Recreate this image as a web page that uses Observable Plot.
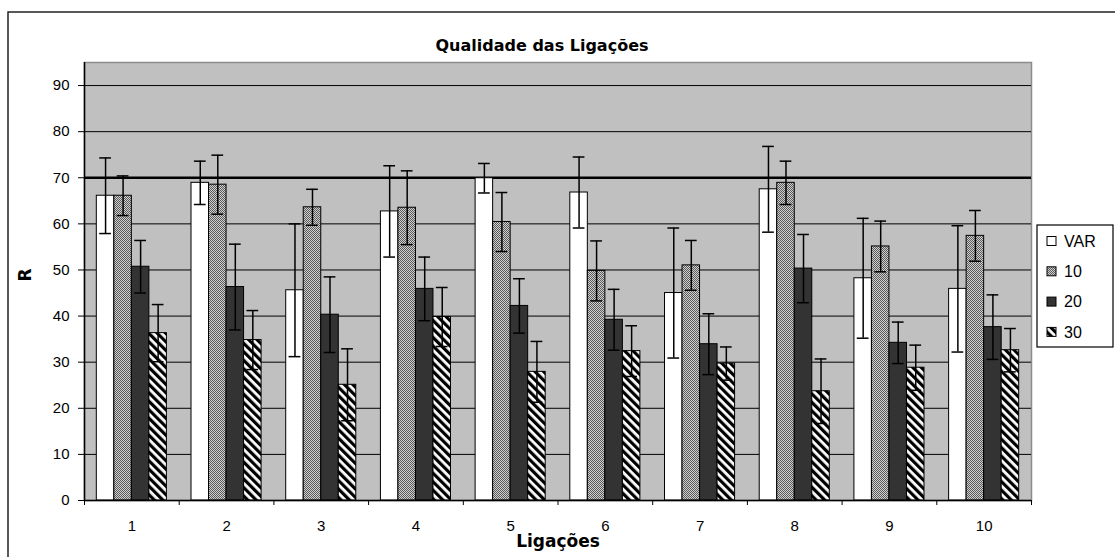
<!DOCTYPE html>
<html><head><meta charset="utf-8">
<script src="https://cdn.jsdelivr.net/npm/d3@7"></script>
<script src="https://cdn.jsdelivr.net/npm/@observablehq/plot@0.6"></script>
<style>body{margin:0;background:#fff;} svg{display:block}</style>
</head><body><div id="chart"></div>
<script>
const groups = [1,2,3,4,5,6,7,8,9,10];
const seriesNames = ["VAR","10","20","30"];
const valVAR = [66.1,68.9,45.6,62.7,69.9,66.8,45.0,67.5,48.2,45.9];
const errVAR = [8.2,4.7,14.4,9.9,3.2,7.7,14.1,9.3,13.0,13.7];
const val10  = [66.1,68.5,63.6,63.5,60.4,49.8,51.0,68.9,55.1,57.4];
const err10  = [4.3,6.4,3.9,8.0,6.4,6.5,5.4,4.7,5.5,5.5];
const val20  = [50.7,46.3,40.3,45.9,42.2,39.2,33.9,50.3,34.2,37.6];
const err20  = [5.7,9.3,8.2,6.9,5.9,6.6,6.6,7.4,4.5,7.0];
const val30  = [36.3,34.8,25.1,39.8,27.9,32.4,29.7,23.7,28.8,32.6];
const err30  = [6.2,6.4,7.8,6.4,6.6,5.5,3.6,7.0,4.9,4.7];
const yTicks = [0,10,20,30,40,50,60,70,80,90];
const refLine = 70;
const titleText = "Qualidade das Ligações";
const xLabel = "Ligações";
const yLabel = "R";

const vals = [valVAR, val10, val20, val30];
const errs = [errVAR, err10, err20, err30];
const fills = {"VAR":"white","10":"url(#pat10)","20":"#333333","30":"url(#pat30)"};
const barW = 0.185, half = barW*seriesNames.length/2, capHalf = 0.062;

const rows = groups.flatMap((g,i)=>seriesNames.map((s,j)=>{
  const x1 = g - half + j*barW;
  return {g, s, v: vals[j][i], e: errs[j][i], x1, x2: x1+barW, xc: x1+barW/2};
}));
const boundaries = [0.5, ...groups.map(g=>g+0.5)];

const font = "'Liberation Sans', Arial, sans-serif";
const boldFont = "'DejaVu Sans', 'Liberation Sans', Arial, sans-serif";
const plot = Plot.plot({
  width:1115, height:557,
  marginLeft:84, marginRight:84, marginTop:62, marginBottom:57,
  x:{domain:[0.5,10.5], label:null}, y:{domain:[0,95], label:null},
  style:{fontFamily:font, fontSize:"15px", color:"#000", background:"#fff"},
  marks:[
    Plot.frame({fill:"#c0c0c0", stroke:"#8c8c8c", strokeWidth:1.5}),
    Plot.ruleY(yTicks.filter(d=>d>0 && d!==refLine), {stroke:"#000", strokeWidth:1}),
    Plot.ruleY([refLine], {stroke:"#000", strokeWidth:2.6}),
    ...seriesNames.map(s=>Plot.rect(rows.filter(r=>r.s===s), {x1:"x1", x2:"x2", y1:0, y2:"v", fill:fills[s], stroke:"#000", strokeWidth:1})),
    Plot.ruleX(rows, {x:"xc", y1:d=>d.v-d.e, y2:d=>d.v+d.e, stroke:"#000", strokeWidth:1.5}),
    Plot.ruleY(rows, {x1:d=>d.xc-capHalf, x2:d=>d.xc+capHalf, y:d=>d.v+d.e, stroke:"#000", strokeWidth:1.5}),
    Plot.ruleY(rows, {x1:d=>d.xc-capHalf, x2:d=>d.xc+capHalf, y:d=>d.v-d.e, stroke:"#000", strokeWidth:1.5}),
    Plot.ruleX([0.5], {stroke:"#000", strokeWidth:1.5}),
    Plot.ruleY([0], {stroke:"#000", strokeWidth:1.5}),
    Plot.axisY({ticks:yTicks, tickSize:6, tickPadding:9, label:null, fontSize:15}),
    Plot.axisX({ticks:boundaries, tickSize:5, tickFormat:()=>"", label:null}),
    Plot.axisX({ticks:groups, tickSize:0, tickPadding:20, label:null, fontSize:15, tickFormat:d=>String(d)}),
    Plot.text([titleText], {frameAnchor:"top", dy:-23, dx:-16, fontWeight:"bold", fontSize:16, fontFamily:boldFont}),
    Plot.text([xLabel], {frameAnchor:"bottom", dy:46, fontWeight:"bold", fontSize:17, fontFamily:boldFont}),
    Plot.text([yLabel], {frameAnchor:"left", dx:-59, rotate:-90, fontWeight:"bold", fontSize:17, fontFamily:boldFont})
  ]
});
document.getElementById("chart").appendChild(plot);
const svg = d3.select(plot);

const defs = svg.insert("defs", ":first-child");
const p10 = defs.append("pattern").attr("id","pat10").attr("width",2).attr("height",2)
  .attr("patternUnits","userSpaceOnUse");
p10.append("rect").attr("width",2).attr("height",2).attr("fill","#d0d0d0");
p10.append("rect").attr("width",1).attr("height",1).attr("fill","#5a5a5a");
p10.append("rect").attr("x",1).attr("y",1).attr("width",1).attr("height",1).attr("fill","#5a5a5a");
const p30 = defs.append("pattern").attr("id","pat30").attr("width",6).attr("height",6)
  .attr("patternUnits","userSpaceOnUse").attr("patternTransform","rotate(-45)");
p30.append("rect").attr("width",6).attr("height",6).attr("fill","#fff");
p30.append("rect").attr("width",3.2).attr("height",6).attr("fill","#000");

// outer chart border
svg.append("rect").attr("x",8).attr("y",12).attr("width",1300).attr("height",800)
  .attr("fill","none").attr("stroke","#222").attr("stroke-width",1.5);

// legend
const lg = svg.append("g").attr("font-family",font).attr("font-size",16).attr("text-anchor","start");
lg.append("rect").attr("x",1037).attr("y",225).attr("width",76).attr("height",122)
  .attr("fill","#fff").attr("stroke","#000").attr("stroke-width",1.2);
seriesNames.forEach((s,i)=>{
  const cy = 241 + i*30.3;
  lg.append("rect").attr("x",1047).attr("y",cy-4.5).attr("width",9).attr("height",9)
    .attr("fill",fills[s]).attr("stroke","#000").attr("stroke-width",1);
  lg.append("text").attr("x",1064).attr("y",cy).attr("dy","0.35em").attr("text-anchor","start").text(s);
});
</script>
</body></html>
